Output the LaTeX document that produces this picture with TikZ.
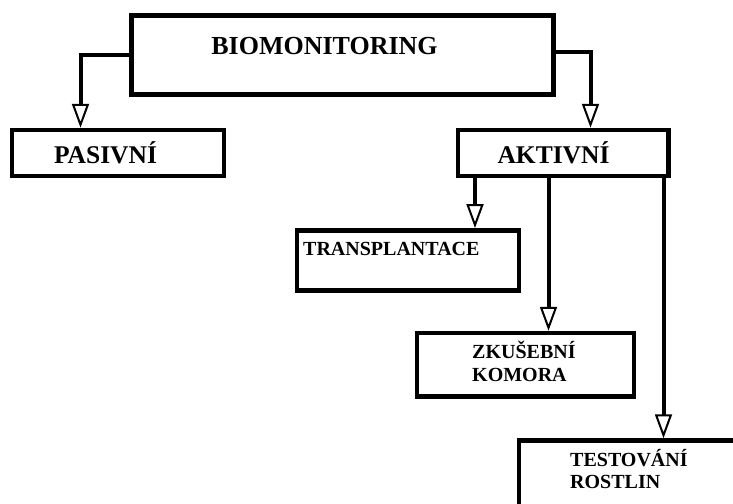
\documentclass[tikz,border=0pt]{standalone}
\usepackage{fontspec}
\setmainfont{Liberation Serif}
\usetikzlibrary{arrows.meta}
\begin{document}
\begin{tikzpicture}[x=1pt,y=-1pt,
  box/.style={draw=black, line width=5pt, rectangle, inner sep=0pt},
  conn/.style={draw=black, line width=4pt, -{Triangle[open, length=24pt, width=17pt, line width=2pt]}},
  bigtxt/.style={inner sep=0pt, font=\bfseries\fontsize{25.5}{30}\selectfont},
  smalltxt/.style={inner sep=0pt, font=\bfseries\fontsize{20}{23.4}\selectfont, align=left}]
\useasboundingbox (0,0) rectangle (733,503);
\clip (0,0) rectangle (733,503);
% boxes
\node[box, minimum width=422.5pt, minimum height=79pt] (bio) at (342.25,55) {};
\node[box, line width=4.5pt, minimum width=212pt, minimum height=46pt] (pas) at (118,153) {};
\node[box, line width=4.5pt, minimum width=210.5pt, minimum height=46pt] (akt) at (563,153) {};
\node[box, line width=4.5pt, minimum width=221.7pt, minimum height=60.3pt] (trans) at (408,260.4) {};
\node[box, line width=4.5pt, minimum width=217pt, minimum height=63.5pt] (zk) at (525.5,364.75) {};
\node[box, line width=4.5pt, minimum width=281pt, minimum height=119.5pt] (test) at (659.5,500.25) {};
% texts
\node[bigtxt, font=\bfseries\fontsize{26}{30}\selectfont, anchor=base] (biot) at (324.5,55) {BIOMONITORING};
\node[bigtxt, anchor=base] (past) at (105.5,163.3) {PASIVNÍ};
\node[bigtxt, anchor=base] (aktt) at (553.5,163.3) {AKTIVNÍ};
\node[smalltxt, anchor=base west] (transt) at (303,255) {TRANSPLANTACE};
\node[smalltxt, anchor=base west] (zkt) at (472,381.7) {ZKUŠEBNÍ\\KOMORA};
\node[smalltxt, font=\bfseries\fontsize{20}{22.3}\selectfont, anchor=base west] (testt) at (570,488.3) {TESTOVÁNÍ\\ROSTLIN};
% connectors
\draw[conn] (bio.west) -| ([xshift=-37.5pt]pas.north);
\draw[conn] ([yshift=3pt]bio.east) -| ([xshift=27.5pt]akt.north);
\draw[conn] ([xshift=-88pt]akt.south) -- ([xshift=67pt]trans.north);
\draw[conn] ([xshift=-14.5pt]akt.south) -- ([xshift=23pt]zk.north);
\draw[conn] ([xshift=100.5pt]akt.south) -- ([xshift=4pt]test.north);
\end{tikzpicture}
\end{document}
